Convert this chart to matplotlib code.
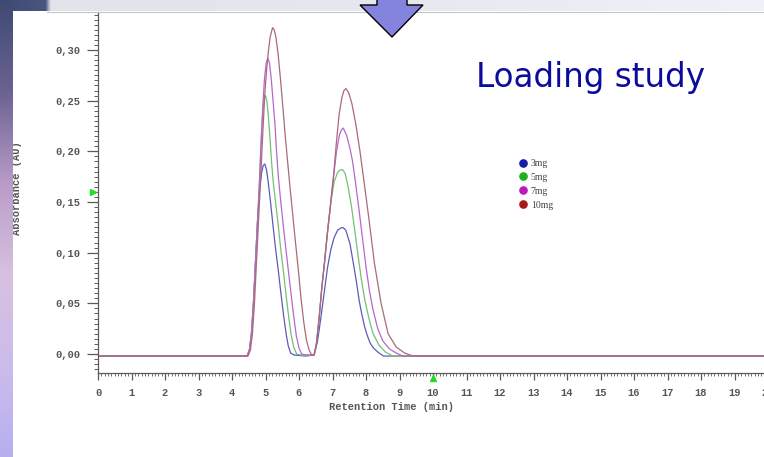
import numpy as np
import matplotlib
matplotlib.use("Agg")
import matplotlib.pyplot as plt
from matplotlib.ticker import MultipleLocator, FixedLocator, FuncFormatter
from matplotlib.patches import Polygon
from matplotlib.lines import Line2D

# ---------------- data ----------------
labels = ["3mg", "5mg", "7mg", "10mg"]
line_colors = ["#5c5cb8", "#72c272", "#b866cc", "#a96a7a"]
legend_colors = ["#1a1aa8", "#1faf1f", "#c018c0", "#a81818"]

t_3mg = [0.0, 4.45, 4.52, 4.58, 4.64, 4.70, 4.76, 4.82, 4.88, 4.93, 4.98, 5.03, 5.08, 5.15,
         5.23, 5.30, 5.38, 5.46, 5.54, 5.62, 5.68, 5.75, 5.85, 6.20, 6.45, 6.55, 6.65, 6.75,
         6.85, 6.95, 7.05, 7.15, 7.25, 7.32, 7.40, 7.52, 7.62, 7.72, 7.80, 7.87, 7.95, 8.02,
         8.12, 8.22, 8.35, 8.52, 20.5]
a_3mg = [-0.002, -0.002, 0.004, 0.020, 0.050, 0.090, 0.130, 0.160, 0.178, 0.186, 0.1875, 0.182, 0.170, 0.150,
         0.125, 0.104, 0.083, 0.060, 0.038, 0.019, 0.008, 0.001, -0.001, -0.002, -0.001, 0.012, 0.035, 0.060,
         0.085, 0.103, 0.115, 0.122, 0.1245, 0.1247, 0.122, 0.109, 0.090, 0.070, 0.052, 0.040, 0.028, 0.020,
         0.011, 0.006, 0.002, -0.002, -0.002]

t_5mg = [0.0, 4.45, 4.52, 4.58, 4.64, 4.70, 4.76, 4.82, 4.87, 4.92, 4.96, 5.00, 5.04, 5.08,
         5.13, 5.18, 5.23, 5.30, 5.38, 5.45, 5.53, 5.60, 5.68, 5.76, 5.84, 5.93, 6.05, 6.45,
         6.52, 6.60, 6.68, 6.76, 6.85, 6.95, 7.05, 7.15, 7.22, 7.30, 7.38, 7.46, 7.56, 7.66,
         7.76, 7.86, 7.96, 8.08, 8.20, 8.38, 8.58, 8.80, 20.5]
a_5mg = [-0.002, -0.002, 0.004, 0.020, 0.050, 0.090, 0.130, 0.170, 0.210, 0.240, 0.252, 0.255, 0.250, 0.237,
         0.215, 0.190, 0.170, 0.150, 0.127, 0.105, 0.083, 0.062, 0.040, 0.020, 0.007, 0.000, -0.001, -0.001,
         0.010, 0.035, 0.065, 0.090, 0.120, 0.150, 0.170, 0.179, 0.1815, 0.182, 0.178, 0.166, 0.147, 0.123,
         0.098, 0.074, 0.054, 0.036, 0.021, 0.009, 0.002, -0.002, -0.002]

t_7mg = [0.0, 4.45, 4.52, 4.58, 4.64, 4.70, 4.76, 4.82, 4.87, 4.92, 4.97, 5.02, 5.07, 5.12,
         5.17, 5.22, 5.28, 5.33, 5.38, 5.45, 5.53, 5.60, 5.68, 5.76, 5.84, 5.92, 6.00, 6.08,
         6.20, 6.45, 6.52, 6.60, 6.68, 6.76, 6.85, 6.95, 7.05, 7.12, 7.20, 7.26, 7.32, 7.42,
         7.52, 7.60, 7.70, 7.80, 7.90, 8.00, 8.10, 8.20, 8.35, 8.50, 8.70, 8.90, 9.10, 20.5]
a_7mg = [-0.002, -0.002, 0.004, 0.020, 0.050, 0.090, 0.130, 0.170, 0.210, 0.245, 0.272, 0.287, 0.292, 0.287,
         0.272, 0.252, 0.228, 0.200, 0.176, 0.152, 0.127, 0.106, 0.083, 0.060, 0.038, 0.018, 0.006, 0.000,
         -0.001, -0.001, 0.010, 0.035, 0.065, 0.090, 0.120, 0.150, 0.180, 0.200, 0.215, 0.221, 0.223, 0.216,
         0.203, 0.190, 0.166, 0.140, 0.113, 0.086, 0.063, 0.045, 0.025, 0.013, 0.005, 0.001, -0.002, -0.002]

t_10mg = [0.0, 4.48, 4.55, 4.61, 4.67, 4.73, 4.79, 4.85, 4.90, 4.95, 4.99, 5.04, 5.08, 5.14,
          5.21, 5.26, 5.31, 5.38, 5.45, 5.52, 5.59, 5.66, 5.73, 5.80, 5.88, 5.98, 6.06, 6.14,
          6.22, 6.30, 6.38, 6.45, 6.52, 6.60, 6.68, 6.76, 6.85, 6.95, 7.05, 7.12, 7.20, 7.28,
          7.34, 7.40, 7.48, 7.58, 7.70, 7.82, 7.95, 8.10, 8.25, 8.45, 8.66, 8.90, 9.15, 9.40, 20.5]
a_10mg = [-0.002, -0.002, 0.004, 0.020, 0.050, 0.090, 0.130, 0.170, 0.205, 0.238, 0.262, 0.283, 0.297, 0.313,
          0.322, 0.320, 0.313, 0.295, 0.270, 0.243, 0.215, 0.190, 0.165, 0.142, 0.115, 0.083, 0.055, 0.032,
          0.014, 0.004, -0.001, -0.001, 0.010, 0.035, 0.065, 0.090, 0.120, 0.150, 0.183, 0.210, 0.237, 0.253,
          0.260, 0.262, 0.258, 0.247, 0.226, 0.200, 0.168, 0.130, 0.090, 0.050, 0.020, 0.007, 0.001, -0.002, -0.002]

series_t = [t_3mg, t_5mg, t_7mg, t_10mg]
series_a = [a_3mg, a_5mg, a_7mg, a_10mg]

x_ticks = list(range(0, 21))
y_ticks = [0.00, 0.05, 0.10, 0.15, 0.20, 0.25, 0.30]

title_text = "Loading study"
x_label = "Retention Time (min)"
y_label = "Absorbance (AU)"

# ---------------- figure ----------------
W, H = 764, 457
fig = plt.figure(figsize=(W / 100, H / 100), dpi=100)
fig.patch.set_facecolor("white")

def fx(px):
    return px / W

def fy(py):
    return 1 - py / H

# left strip gradient
strip = fig.add_axes([0, 0, fx(13), 1])
strip.set_axis_off()
cols = np.array([
    [0x3e, 0x4a, 0x74],
    [0x6a, 0x62, 0x92],
    [0xb8, 0x9c, 0xc8],
    [0xd8, 0xc0, 0xe0],
    [0xcc, 0xbc, 0xec],
    [0xb6, 0xb0, 0xf0],
]) / 255.0
pos = np.linspace(0, 1, len(cols))
yy = np.linspace(0, 1, 256)
grad = np.stack([np.interp(yy, pos, cols[:, k]) for k in range(3)], axis=1)
strip.imshow(grad[:, None, :], aspect="auto", extent=[0, 1, 1, 0])
strip.set_zorder(5)

# top bar
top = fig.add_axes([0, fy(11), 1, 11 / H])
top.set_axis_off()
xx = np.linspace(0, 1, 512)
tcols = np.array([[0x3e, 0x4a, 0x74], [0x4a, 0x56, 0x80], [0xe2, 0xe4, 0xea], [0xe6, 0xe8, 0xee], [0xf0, 0xf2, 0xf8]]) / 255.0
tpos = np.array([0, 45 / W, 50 / W, 0.5, 1.0])
tgrad = np.stack([np.interp(xx, tpos, tcols[:, k]) for k in range(3)], axis=1)
top.imshow(tgrad[None, :, :], aspect="auto", extent=[0, 1, 0, 1])
top.set_zorder(4)
fig.add_artist(Line2D([fx(47), 1], [fy(11.5), fy(11.5)], color="#c4c6cc", lw=0.8, zorder=6))

# main axes
x0_px, x_scale = 98, 33.5
y0_px, y_scale = 354, 1013.3
ax_left_px, ax_right_px = 98, 800
ax_top_px, ax_bot_px = 12, 373
ax = fig.add_axes([fx(ax_left_px), fy(ax_bot_px), (ax_right_px - ax_left_px) / W, (ax_bot_px - ax_top_px) / H])
ax.set_facecolor("none")
ax.set_xlim((ax_left_px - x0_px) / x_scale, (ax_right_px - x0_px) / x_scale)
ax.set_ylim((y0_px - ax_bot_px) / y_scale, (y0_px - ax_top_px) / y_scale)

for t, a, c in zip(series_t, series_a, line_colors):
    ax.plot(t, a, color=c, lw=0.9, solid_joinstyle="round")

for s in ["top", "right"]:
    ax.spines[s].set_visible(False)
for s in ["left", "bottom"]:
    ax.spines[s].set_color("#5a5a5a")
    ax.spines[s].set_linewidth(0.9)

mono = "Liberation Mono"
ax.yaxis.set_major_locator(FixedLocator(y_ticks))
ax.yaxis.set_minor_locator(MultipleLocator(0.005))
ax.yaxis.set_major_formatter(FuncFormatter(lambda v, p: f"{v:.2f}".replace(".", ",")))
ax.xaxis.set_major_locator(FixedLocator(x_ticks))
ax.xaxis.set_minor_locator(MultipleLocator(0.1))
ax.tick_params(axis="y", which="major", length=8, width=0.9, color="#5a5a5a", pad=4.5,
               labelsize=7.5, labelcolor="#555555")
ax.tick_params(axis="y", which="minor", length=3, width=0.7, color="#5a5a5a")
ax.tick_params(axis="x", which="major", length=5, width=0.9, color="#5a5a5a", pad=6,
               labelsize=7.5, labelcolor="#555555")
ax.tick_params(axis="x", which="minor", length=2.2, width=0.6, color="#5a5a5a")
for lab in ax.get_xticklabels() + ax.get_yticklabels():
    lab.set_fontfamily(mono)
    lab.set_fontweight("bold")

# axis labels
fig.text(fx(391.5), fy(407), x_label, ha="center", va="center", fontsize=7.5,
         family=mono, fontweight="bold", color="#555555")
fig.text(fx(17), fy(188), y_label, ha="center", va="center", rotation=90, fontsize=7.5,
         family=mono, fontweight="bold", color="#555555")

# green markers
fig.add_artist(Line2D([fx(93)], [fy(191.5)], marker=">", color="#22dd22", markersize=4.5, lw=0))
fig.add_artist(Line2D([fx(433)], [fy(378)], marker="^", color="#22dd22", markersize=4.5, lw=0))

# legend
handles = [Line2D([], [], marker="o", lw=0, color=c, markersize=5.2) for c in legend_colors]
leg = fig.legend(handles, labels, loc="upper left", bbox_to_anchor=(fx(520), fy(159)),
                 frameon=False, prop={"family": "Liberation Serif", "size": 7},
                 labelspacing=0.5, handlelength=0.7, handletextpad=0.4,
                 borderpad=0, borderaxespad=0)
for txt in leg.get_texts():
    txt.set_color("#444444")

# title-like annotation
fig.text(fx(590), fy(78), title_text, ha="center", va="center", fontsize=23.5,
         family="DejaVu Sans", color="#0c0c9c")

# down arrow
arrow_px = [(377, -2), (407, -2), (407, 5), (423, 5), (392, 37), (360, 5), (377, 5)]
arrow = Polygon([(fx(x), fy(y)) for x, y in arrow_px], closed=True, transform=fig.transFigure,
                facecolor="#8484de", edgecolor="black", lw=1.0, zorder=10)
fig.add_artist(arrow)

fig.savefig("out.png", dpi=100)
